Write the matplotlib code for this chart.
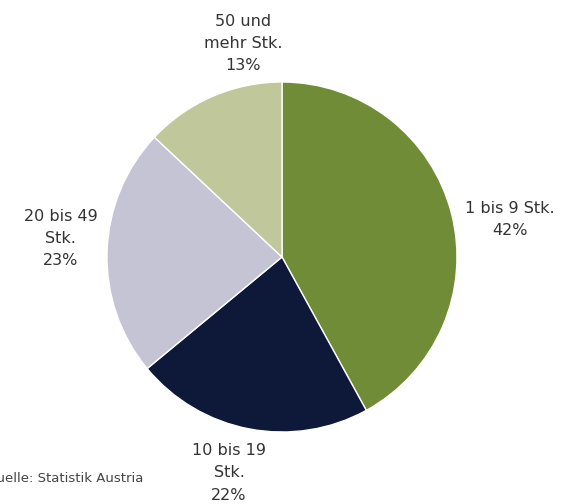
import numpy as np
import matplotlib
matplotlib.use("Agg")
import matplotlib.pyplot as plt

plt.rcParams['font.family'] = ['DejaVu Sans']

categories = ["1 bis 9 Stk.", "10 bis 19\nStk.", "20 bis 49\nStk.", "50 und\nmehr Stk."]
shares = [42, 22, 23, 13]
colors = ["#708c36", "#0e1939", "#c5c4d5", "#bfc79b"]

# label placement: distance from centre (in radii) and angular nudge (deg)
label_dist = [1.32, 1.27, 1.27, 1.24]
label_shift = [-5, -3, -3, -13]

fig = plt.figure(figsize=(5.7, 5.04), dpi=100)
ax = fig.add_axes([0, 0, 1, 1])

cx, cy, r = 282, 247, 175
wedges, _ = ax.pie(shares, colors=colors, startangle=90, counterclock=False,
                   center=(cx, cy), radius=r,
                   wedgeprops=dict(edgecolor='white', linewidth=1))

# pie() resets the limits, so fix them afterwards
ax.set_xlim(0, 570)
ax.set_ylim(0, 504)
ax.set_aspect('equal')
ax.axis('off')

for w, name, val, d, sh in zip(wedges, categories, shares, label_dist, label_shift):
    mid = np.deg2rad((w.theta1 + w.theta2) / 2 + sh)
    x = cx + d * r * np.cos(mid)
    y = cy + d * r * np.sin(mid)
    ax.text(x, y, f"{name}\n{val}%", ha='center', va='center',
            fontsize=11.5, color='#333333', linespacing=1.6)

ax.text(143, 26, "Quelle: Statistik Austria", ha='right', va='center',
        fontsize=9.5, color='#444444')

fig.savefig("out.png", dpi=100)
